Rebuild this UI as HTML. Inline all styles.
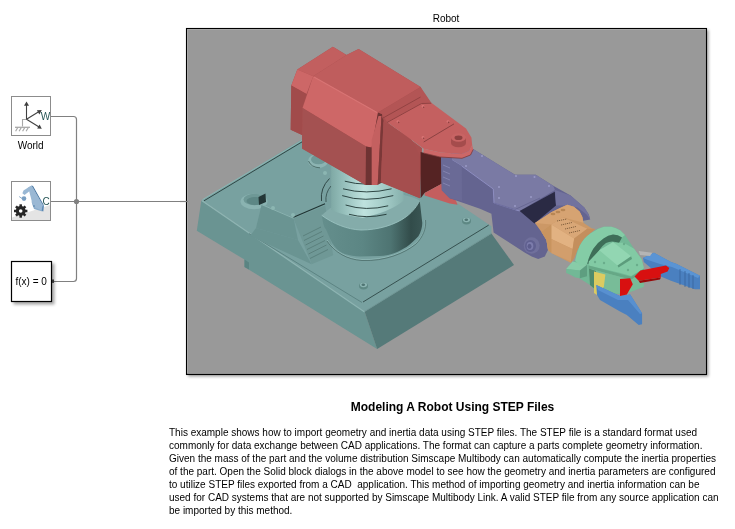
<!DOCTYPE html>
<html><head><meta charset="utf-8"><style>
html,body{margin:0;padding:0;background:#fff;width:735px;height:529px;overflow:hidden;font-family:"Liberation Sans",sans-serif;}
.t,#para,svg{will-change:transform;}
.t{position:absolute;white-space:nowrap;color:#000;}
#para{position:absolute;left:169px;top:426px;font-size:10px;line-height:13px;color:#000;white-space:nowrap;}
</style></head><body>
<svg width="735" height="529" viewBox="0 0 735 529" style="position:absolute;left:0;top:0">
<defs>
<filter id="sh" x="-10%" y="-10%" width="130%" height="130%"><feGaussianBlur stdDeviation="1.4"/></filter>
<clipPath id="rc"><rect x="187" y="29" width="519" height="345"/></clipPath>
</defs>
<!-- connection lines -->
<g fill="none" stroke="#808080" stroke-width="1.2">
<path d="M50 116.5 H73.5 Q76.5 116.5 76.5 119.5 V278.5 Q76.5 281.5 73.5 281.5 H54"/>
<path d="M50 201.5 H187"/>
</g>
<circle cx="76.5" cy="201.5" r="2.6" fill="#808080"/>

<!-- World block -->
<rect x="11.5" y="96.5" width="39" height="39" fill="#fff" stroke="#8c8c8c" stroke-width="1"/>
<g id="world">
<path d="M22.5 126.5 V119.5 H26.5" fill="none" stroke="#a8a8a8" stroke-width="1.1"/>
<path d="M15 127.3 H30" stroke="#a8a8a8" stroke-width="1.3"/>
<path d="M17.8 127.5 L15.6 131.3 M21.3 127.5 L19.1 131.3 M24.8 127.5 L22.6 131.3 M28.3 127.5 L26.1 131.3" stroke="#a8a8a8" stroke-width="1.2"/>
<g stroke="#404040" stroke-width="1.1" fill="none">
<path d="M26.5 119.3 V104"/>
<path d="M26.5 119.3 L39.5 111.3"/>
<path d="M26.5 119.3 L39.5 127.3"/>
</g>
<g fill="#404040">
<path d="M26.5 101.5 L24 105.8 L29 105.8 Z"/>
<path d="M41.8 110 L36.9 110.3 L39.4 114.4 Z"/>
<path d="M41.8 128.8 L39.6 124.4 L37.1 128.4 Z"/>
</g>
<text x="40.7" y="119.6" font-size="10" fill="#275656" font-family="Liberation Sans">W</text>
</g>
<text x="30.7" y="149" font-size="10" text-anchor="middle" fill="#000" font-family="Liberation Sans">World</text>

<!-- Solver config block -->
<rect x="11.5" y="181.5" width="39" height="39" fill="#fff" stroke="#8c8c8c" stroke-width="1"/>
<path d="M12 217.5 L50 205 V220 H12 Z" fill="#e4e4e4"/>
<g id="scfg">
<path d="M31.5 201.5 L40.5 203 L43 207 L42.5 211.5 L34 209 L32.5 205 Z" fill="#8aaccb"/>
<path d="M28.2 187.5 L31.6 185.6 L42.6 204.8 L41.5 210.5 L35 207.5 L32.5 204 Z" fill="#9ab8d4"/>
<path d="M31.6 185.6 L33 186 L44 205.5 L42.6 204.8 Z" fill="#3f6f9c"/>
<path d="M42.6 204.8 L44 205.5 L43.3 211.6 L41.8 210.8 Z" fill="#5a88b4"/>
<path d="M28.2 187.5 L31.6 185.6 L31 190 L24.5 195 L22.4 193.2 L23.5 190.5 Z" fill="#9ab8d4"/>
<circle cx="24" cy="198.6" r="2.3" fill="#7a9fc2"/>
<path d="M19.2 196.6 L22 198.4" stroke="#7a9fc2" stroke-width="0.9"/>
<circle cx="34" cy="206" r="0.7" fill="#3f6f9c"/>
</g>
<g transform="translate(20.7 211)" fill="#262626">
<circle r="4.9"/>
<g><rect x="-1.25" y="-6.7" width="2.5" height="3"/><rect x="-1.25" y="3.7" width="2.5" height="3"/><rect x="-6.7" y="-1.25" width="3" height="2.5"/><rect x="3.7" y="-1.25" width="3" height="2.5"/></g>
<g transform="rotate(45)"><rect x="-1.25" y="-6.7" width="2.5" height="3"/><rect x="-1.25" y="3.7" width="2.5" height="3"/><rect x="-6.7" y="-1.25" width="3" height="2.5"/><rect x="3.7" y="-1.25" width="3" height="2.5"/></g>
<circle r="1.8" fill="#fff"/>
</g>
<text x="42.5" y="204.5" font-size="10" fill="#275656" font-family="Liberation Sans">C</text>

<!-- f(x)=0 block -->
<rect x="13.5" y="263.5" width="41" height="41" fill="#000" opacity="0.35" filter="url(#sh)"/>
<rect x="11.5" y="261.5" width="40" height="40" fill="#fff" stroke="#000" stroke-width="1.2"/>
<rect x="52" y="279.5" width="2" height="3.4" fill="#333"/>
<text x="31.2" y="284.5" font-size="10" text-anchor="middle" fill="#000" font-family="Liberation Sans">f(x) = 0</text>

<!-- Robot block -->
<rect x="188" y="30" width="520.5" height="346.5" fill="#000" opacity="0.38" filter="url(#sh)"/>
<rect x="186.5" y="28.5" width="520" height="346" fill="#999" stroke="#000" stroke-width="1.1"/>
<path d="M187.5 373 V29.5 H705.5" fill="none" stroke="#a8a8a8" stroke-width="1"/>
<g clip-path="url(#rc)" id="robot">
<defs>
<linearGradient id="gUpCyl" x1="331" y1="0" x2="404" y2="0" gradientUnits="userSpaceOnUse">
<stop offset="0" stop-color="#7fa9a5"/><stop offset="0.15" stop-color="#92bcb8"/><stop offset="0.45" stop-color="#bfe2de"/><stop offset="0.75" stop-color="#a2cac6"/><stop offset="1" stop-color="#86b0ac"/>
</linearGradient>
<linearGradient id="gLoCyl" x1="322" y1="0" x2="423" y2="0" gradientUnits="userSpaceOnUse">
<stop offset="0" stop-color="#648e8c"/><stop offset="0.4" stop-color="#5c8684"/><stop offset="0.68" stop-color="#4e7472"/><stop offset="0.88" stop-color="#324c4a"/><stop offset="1" stop-color="#3a5654"/>
</linearGradient>
<linearGradient id="gTan" x1="535" y1="0" x2="592" y2="0" gradientUnits="userSpaceOnUse">
<stop offset="0" stop-color="#bf8c5c"/><stop offset="0.4" stop-color="#d8a676"/><stop offset="1" stop-color="#c8945f"/>
</linearGradient>
</defs>
<!-- BASE -->
<polygon points="196.8,230.8 201.3,200.6 364.6,311.5 377.1,348.9 244.5,267 244.5,259.6" fill="#6a9492"/>
<polygon points="244.5,259.6 244.5,267 249,269.5 249,262.4" fill="#5a8482"/>
<polygon points="364.6,311.5 491.4,233.4 514,265 377.1,348.9" fill="#557a79"/>
<polygon points="201.7,200.1 334,120 491.4,226.3 491.4,233.4 364.6,311.5" fill="#78a1a0"/>
<polyline points="201.7,200.6 364.6,312" fill="none" stroke="#8db5b3" stroke-width="1.2"/>
<polyline points="364.6,311.5 491.4,233.4" fill="none" stroke="#6f9695" stroke-width="1"/>
<polyline points="202.5,199.6 302.5,140.2" fill="none" stroke="#92bab8" stroke-width="0.8"/>
<polyline points="204,200.8 302.5,141.6" fill="none" stroke="#2f4746" stroke-width="1"/>
<polyline points="363,302 488.7,225.1" fill="none" stroke="#2f4746" stroke-width="0.9"/>
<polyline points="249,233.5 362,302.5" fill="none" stroke="#557c7b" stroke-width="0.8"/>
<!-- left circle feature -->
<ellipse cx="254" cy="201.5" rx="13.5" ry="7.8" fill="#8ab3b1"/>
<ellipse cx="254.5" cy="199.5" rx="11" ry="5.8" fill="#6e9896"/>
<ellipse cx="255" cy="201" rx="8.5" ry="4" fill="#5d8785"/>
<polygon points="258.5,197 265.5,193.5 266,202 259,205" fill="#233636"/>
<!-- control box -->
<polygon points="261.7,204.2 293.5,217.8 298,240 256,228" fill="#6a9492"/>
<polygon points="256,228 298,240 311.6,264.3 250,236" fill="#6a9492"/>
<polygon points="293.5,218.5 325.2,205.4 333.2,255.2 311.6,264.3" fill="#6f9896"/>
<polyline points="261.7,204.6 293.5,218.2" fill="none" stroke="#8db5b3" stroke-width="0.9"/>
<polyline points="293.5,217.3 325,203.8" fill="none" stroke="#1f3332" stroke-width="1.1"/>
<g stroke="#4d706d" stroke-width="0.6">
<path d="M303 236 L321 227 M304 240.5 L322 231.5 M305.5 245 L323.5 236 M307 249.5 L325 240.5 M308.5 254 L326.5 245 M310 258.5 L328 249.5"/>
</g>
<!-- rivets on base -->
<circle cx="273" cy="208" r="2" fill="#8cb6b2"/>
<circle cx="293" cy="215" r="2" fill="#8cb6b2"/>
<circle cx="325" cy="173" r="2" fill="#8cb6b2"/>
<ellipse cx="363.5" cy="286" rx="4.5" ry="3.4" fill="#5e8884"/>
<ellipse cx="363.5" cy="284.8" rx="3.6" ry="2.4" fill="#8cb4b2"/>
<ellipse cx="363.3" cy="284.8" rx="1.8" ry="1.2" fill="#4f7573"/>
<ellipse cx="466.5" cy="221" rx="4.5" ry="3.4" fill="#5e8884"/>
<ellipse cx="466.5" cy="219.8" rx="3.6" ry="2.4" fill="#8cb4b2"/>
<ellipse cx="466.3" cy="219.8" rx="1.8" ry="1.2" fill="#4f7573"/>
<!-- recess arcs left of pedestal -->
<ellipse cx="318" cy="161" rx="10" ry="7" fill="#8cb4b2"/>
<ellipse cx="318.5" cy="159.5" rx="7.5" ry="4.8" fill="#6f9997"/>
<path d="M308.5 161 Q311 167.5 320 167.8" fill="none" stroke="#3f5e5b" stroke-width="0.8"/>
<path d="M329.5 178.5 Q320 188 321.5 201" fill="none" stroke="#2f4746" stroke-width="1"/>
<path d="M331 186 Q325 193 326 202" fill="none" stroke="#2f4746" stroke-width="0.8"/>
<!-- pedestal lower cylinder -->
<path d="M327 240 C335 252 347 258.5 362 259.5 C385 260.5 405 252 416 243 C423 236 426 228 425 220" fill="none" stroke="#90b8b6" stroke-width="0.9"/>
<path d="M327 241 C335 252.5 347 259.5 362 260.5 C385 261.5 405 253 416 244 C423 237 426.5 228 425.5 220" fill="none" stroke="#3c5a58" stroke-width="0.6"/>
<path d="M321.7 215.3 L322.3 218.3 C323 224 324 227 326 229.4 C329 236 331 242 334.6 246.6 C337 249.5 339 251.5 341.9 252.7 C347 255 353 256.2 360 256.4 L380 256.1 C386 255.6 390 254.6 393.2 253.5 C399 251.3 403 249 406.5 246.9 C411 243.8 415 240 418.4 236.3 C421 232 422.3 227 422.3 223 L419.7 200.6 Z" fill="url(#gLoCyl)"/>
<path d="M321.7 215.3 C333 223.5 347 229.5 361 230 C378 230 395 225 406.5 216.5 C413 211.5 417 206 419.7 200.6 C410 195 392 192 375 193 C350 195 335 203 321.7 215.3 Z" fill="#84acaa"/>
<path d="M321.7 215.3 C333 223.5 347 229.5 361 230 C378 230 395 225 406.5 216.5 C413 211.5 417 206 419.7 200.6" fill="none" stroke="#9ac2c0" stroke-width="0.9"/>
<!-- pedestal upper cylinder -->
<path d="M331.2 165 L403.5 190 L403.5 200.7 Q390 212 362.6 217.7 Q345 216 331.2 210 Z" fill="url(#gUpCyl)"/>
<g fill="none" stroke="#1f3533" stroke-width="0.9">
<path d="M344.8 181.2 Q366 187 388 181.2"/>
<path d="M343 188.8 Q366 195 391.6 188.8"/>
<path d="M342.2 195.6 Q364 203 393.3 195.6"/>
<path d="M345.6 205 Q366 211.5 388.2 205.8"/>
<path d="M349 214.3 Q366 219 386.5 214.3"/>
</g>
<!-- RED SHOULDER -->
<polygon points="291.3,85.4 297.3,69.5 332.9,46.8 346.5,55.1 358.6,49.1 420.6,86.9 428.2,105 387,122 422,148 420,198.2 381,182 365.6,185 302.1,148.2 302.1,135.1 290.7,129.8" fill="#a84f4f"/>
<polygon points="297.3,69.5 332.9,46.8 346.5,55.1 313.2,76.3" fill="#c25f5f"/>
<polygon points="297.3,69.5 313.2,76.3 306.5,94 291.3,85.4" fill="#cd6767"/>
<polygon points="291.3,85.4 306.5,94 302.6,106.6 302.1,135.1 290.7,129.8" fill="#a14b4b"/>
<polygon points="313.2,76.3 346.5,55.1 358.6,49.1 420.6,86.9 378,112.5" fill="#bf5d5d"/>
<polygon points="313.2,76.3 378,112.5 371.7,147.5 366,146.5 302.6,108" fill="#ce6767"/>
<polyline points="314,77 377,112.5" fill="none" stroke="#d87474" stroke-width="1.2"/>
<polygon points="302.6,108 366,146.5 365.6,185 302.1,148.7" fill="#a45151"/>
<!-- vertical bevel -->
<polygon points="366,146.5 371.7,147.5 378,112.5 382,114 377.7,185 371.7,185 365.6,185" fill="#6e3333"/>
<polygon points="371.7,140 378.5,116 381.5,116 377.7,185 371.7,185" fill="#c46060"/>
<polygon points="377.7,185 381.5,116 383.5,120 380.8,183" fill="#7a3838"/>
<!-- hood right-back strip -->
<polygon points="378,112.5 420.6,86.9 431.3,102.7 421.5,104 387,122 382,114" fill="#b35555"/>
<polyline points="383,118 420.6,97" fill="none" stroke="#8a3e3e" stroke-width="0.8"/>
<!-- neck front face -->
<polygon points="383.5,122 410,137 419.9,155.9 419.9,198.2 380.8,182.5" fill="#a54e4e"/>
<!-- dark inner -->
<polygon points="420.6,151.9 441.8,157.2 441.8,183.7 424.6,192.9 420.6,198.2" fill="#552323"/>
<!-- lower jaw -->
<polygon points="424.6,192.9 441.8,183.7 453.7,195.6 457.6,204.8 449.7,203.5 424.6,195.6" fill="#c45e5e"/>
<!-- PURPLE ARM -->
<polygon points="441,157.4 472.7,148.7 515.1,174.8 535.8,174.8 553.2,185.7 570.6,195.5 584.3,207.6 588.8,214.4 590.2,219.5 560,225 541.5,231.9 546.4,240 548,249.9 544.8,256.4 538.2,258.9 531.7,256.4 525.4,253 493.6,232.6 491.4,213.7 480,208.8 449.7,198.2 441.8,190.3" fill="#646490"/>
<polygon points="452,153 472.7,148.7 515.1,174.8 535.8,174.8 553.2,185.7 555,190 519.7,211 515.1,209.7 494,203 493.3,189 461.8,166.1 452,160" fill="#7a7aa4"/>
<polyline points="452,160 461.8,166.1 493.3,189 494,203 515.1,209.7 519.7,211" fill="none" stroke="#9090c4" stroke-width="0.9"/>
<polygon points="441,157.4 452,153 452,160 461.8,166.1 462,201 449.7,198.2 441.8,190.3" fill="#6a6a96"/>
<g stroke="#9494c0" stroke-width="0.6"><path d="M443 165 L450 168 M443 171 L450 174 M443 177 L450 180 M443 183 L450 186"/></g>
<g fill="#9a9ac6"><circle cx="466" cy="166" r="1"/><circle cx="482" cy="156" r="1"/><circle cx="499" cy="187" r="1"/><circle cx="516" cy="176" r="1"/><circle cx="499" cy="198" r="1"/><circle cx="515" cy="206" r="1"/><circle cx="531" cy="197" r="1"/><circle cx="534.5" cy="177" r="1"/><circle cx="549" cy="186" r="1"/></g>
<polyline points="494,203 515,209.5 540,198" fill="none" stroke="#5a5a88" stroke-width="0.6"/>
<polygon points="519.7,211 554.8,191.7 556,205.4 534.4,223.5" fill="#2a2a44"/>
<polygon points="555,190 570.6,195.5 584.3,207.6 588.8,214.4 590.2,219.5 586.6,214.4 577.5,207.6 566.2,205.4 556,205.4" fill="#72729e"/>
<!-- elbow pin -->
<ellipse cx="531.7" cy="245.5" rx="8" ry="8.3" fill="#70709c"/>
<ellipse cx="530.5" cy="246" rx="5.5" ry="6" fill="#606090"/>
<ellipse cx="530" cy="246" rx="3.3" ry="4" fill="#7c7cac"/>
<ellipse cx="529.5" cy="246.3" rx="2" ry="2.5" fill="#5c5c8c"/>
<!-- tongue -->
<polygon points="387,122 421.5,103 431.3,102.7 455.5,120.8 466,128.4 471.4,137.5 472.2,145 469.1,151.1 461.6,154.1 440.4,152.6 423.7,148.8" fill="#c46060"/>
<polyline points="387,122.5 421.5,103.5 431.3,103.2" fill="none" stroke="#8a3e3e" stroke-width="0.9"/>
<polygon points="423.7,148.8 440.4,152.6 461.6,154.1 469.1,151.1 472.2,145 473.2,149.5 470.5,155 462,158.3 440,157 423.5,153" fill="#cc6767"/>
<polyline points="423.5,153 440,157 462,158.3 470.5,155 473.2,149.5" fill="none" stroke="#7e3a3a" stroke-width="0.8"/>
<polyline points="423.7,142 454,123.9" fill="none" stroke="#7c3a3a" stroke-width="0.8"/>
<path d="M451 137.5 L451 143 A7.5 4.3 0 0 0 466 143 L466 137.5 Z" fill="#a54c4c"/>
<ellipse cx="458.5" cy="137.5" rx="7.5" ry="4.3" fill="#c86464"/>
<ellipse cx="458.5" cy="137.8" rx="4" ry="2.3" fill="#8e4040"/>
<g fill="#d87474"><circle cx="423" cy="106.5" r="1.4"/><circle cx="398" cy="121.6" r="1.4"/><circle cx="448" cy="121.6" r="1.4"/><circle cx="423" cy="137.5" r="1.4"/></g>
<g fill="#8e4040"><circle cx="423.6" cy="107.3" r="0.8"/><circle cx="398.6" cy="122.4" r="0.8"/><circle cx="448.6" cy="122.4" r="0.8"/><circle cx="423.6" cy="138.3" r="0.8"/></g>
<!-- TAN WRIST -->
<polygon points="535,223 551.3,212.3 561.1,207.4 567.3,204.8 573.9,206.7 579.6,211.5 582.4,217.1 583.4,222.8 591.9,228.5 595,229 590.3,233.6 584,240 577.4,249.9 574.2,258 570.9,262.9 567.6,261.3 551.3,253.1 548,249.9 546.4,240 541.5,231.9" fill="#cc9866"/>
<polygon points="535,223 551.3,212.3 561.1,207.4 567.3,204.8 573.9,206.7 579.6,211.5 582.4,217.1 583.4,222.8 562.7,217.2 551.3,224.6" fill="#d6a372"/>
<polygon points="551.3,224.6 562.7,217.2 587.2,228.7 574.2,238.4" fill="#d9a777"/>
<polygon points="551.3,224.6 574.2,238.4 572.5,249 551.3,239" fill="#e2b282"/>
<polygon points="551.3,239 572.5,249 570.9,261.3 551.3,253.1" fill="#d29e6c"/>
<polygon points="574.2,238.4 587.2,228.7 592.1,228.7 595,229 590.3,233.6 584,240 577.4,249.9 574.2,258 570.9,262.9 570.9,261.3" fill="#c48f5d"/>
<polygon points="541.5,231.9 551.3,224.6 551.3,253.1 548,249.9 546.4,240" fill="#c8945f"/>
<g fill="#b88654"><ellipse cx="553" cy="214" rx="2.4" ry="1.3"/><ellipse cx="558" cy="212" rx="2.4" ry="1.3"/><ellipse cx="563" cy="210" rx="2.4" ry="1.3"/></g>
<g stroke="#4a3018" stroke-width="0.6" stroke-dasharray="1.2 0.8"><path d="M557 221 L567 219 M561 225 L572 222.5 M565 229 L576 226.5 M569 233 L580 230.5"/></g>
<!-- GREEN GRIPPER -->
<polygon points="566.8,268.4 572.1,262.4 575.1,260.8 577,252 579.7,245.7 584,239 590.3,233.6 597,229 603.9,226.8 611.4,226.8 616,228 620.5,230.6 625,235.1 634.1,248.7 641.7,259.3 644,268.4 643.8,286.8 632.8,291 625,294 600,294 590,285 579,278 575.1,277.5 567.6,273" fill="#72b896"/>
<polygon points="566.2,268.9 572.5,261.6 587,264.7 580,270.5" fill="#88cca8"/>
<polygon points="566.2,268.9 580,270.5 579.8,278.2 566.2,273" fill="#72b896"/>
<polygon points="580,270.5 587,264.7 587,276.2 579.8,278.2" fill="#5e9e80"/>
<path d="M575.1 260.8 Q577 252 579.7 245.7 Q584 238 590.3 233.6 Q597 228.5 603.9 226.8 L611.4 226.8 Q616 228 620.5 230.6 L625 235.1 L622 237.4 Q618 234.5 613 234.4 Q608 235 603.9 238.2 Q598 242 593.3 248.7 Q589 256 587.2 263.9 L580 266 Z" fill="#84cca6"/>
<path d="M587.2 263.9 Q589 256 593.3 248.7 Q598 242 603.9 238.2 Q608 235 613 234.4 Q618 234.5 622 237.4 L619 243 Q612 240 606 243 Q598 249 594 262 Z" fill="#3e6e58"/>
<polygon points="588.7,261.6 599.3,250.3 613,242.7 623.5,242.7 634.1,248.7 641.7,259.3 644,268.4 631.1,276 620.5,273 588.7,265.4" fill="#82caa4"/>
<polygon points="599.3,250.3 613,241.9 631.1,256.3 617.5,265.4" fill="#92d6b2"/>
<polygon points="617.5,265.4 631.1,256.3 632,259 618.5,267.5" fill="#5c9c7c"/>
<g fill="#6aae8c"><circle cx="595" cy="262" r="1.2"/><circle cx="604" cy="263" r="1.2"/><circle cx="637" cy="265" r="1.2"/><circle cx="628" cy="270" r="1.2"/><circle cx="624" cy="244" r="1.2"/></g>
<polygon points="588.7,265.4 631.1,276.7 644,268.4 644,271.5 631.1,279.8 588.7,268.5" fill="#66a886"/>
<polygon points="589,268.5 631,279.8 643.8,271.5 643.8,286.8 632.8,291 625,293 600,294 590,285" fill="#78bc98"/>
<polygon points="589,268.5 596,271 596,290 590,285" fill="#4f8a6c"/>
<polygon points="594,271.4 605.4,274.5 603.9,286.6 597.8,295.6 594,293" fill="#dccb60"/>
<!-- blue fingers -->
<polygon points="643,257.9 654,252.8 671,262.1 676.1,263.8 700,275.7 700,289.3 694.9,289.3 671,280.8 660.8,276.6 643.8,262.1" fill="#4a80c0"/>
<polygon points="643,257.9 654,252.8 671,262.1 676.1,263.8 700,275.7 698,278 672,267 660,264 648,260" fill="#5a94d4"/>
<g stroke="#335f96" stroke-width="0.7"><path d="M680 269 V285 M685 271 V287 M689 273 V288 M693 275 V289"/></g>
<polygon points="638.7,251 652.3,252.8 650,256 640,255" fill="#b5b5b5"/>
<polygon points="596.3,285 620,296.1 630.2,294.4 642.1,313.2 642.1,324.2 638.7,325 626.8,314.9 620,311.5 600,300 597,295" fill="#4a80c0"/>
<polygon points="596.3,285 620,296.1 630.2,294.4 642.1,313.2 640,314 628,300 618,300 598,290" fill="#5890d0"/>
<!-- red fingers -->
<polygon points="634.5,276.6 640.4,270.6 666,265.5 669.3,268 667.6,271.5 660.8,274 660.8,277.4 638.7,280.8" fill="#d81010"/>
<polygon points="638.7,280.8 660.8,277.4 660,279.5 640,283" fill="#980808"/>
<polygon points="620,279 630.2,278.3 632.8,284.2 626.8,294.4 620,296" fill="#d81010"/>
</g>
<path d="M180 201.5 H188" stroke="#808080" stroke-width="1.2"/>
</svg>
<div class="t" style="left:0;top:13px;width:892px;text-align:center;font-size:10px;">Robot</div>
<div class="t" style="left:1px;top:400px;width:903px;text-align:center;font-size:12px;font-weight:bold;">Modeling A Robot Using STEP Files</div>
<div id="para">This example shows how to import geometry and inertia data using STEP files. The STEP file is a standard format used<br>commonly for data exchange between CAD applications. The format can capture a parts complete geometry information.<br>Given the mass of the part and the volume distribution Simscape Multibody can automatically compute the inertia properties<br>of the part. Open the Solid block dialogs in the above model to see how the geometry and inertia parameters are configured<br>to utilize STEP files exported from a CAD &nbsp;application. This method of importing geometry and inertia information can be<br>used for CAD systems that are not supported by Simscape Multibody Link. A valid STEP file from any source application can<br>be imported by this method.</div>
</body></html>
